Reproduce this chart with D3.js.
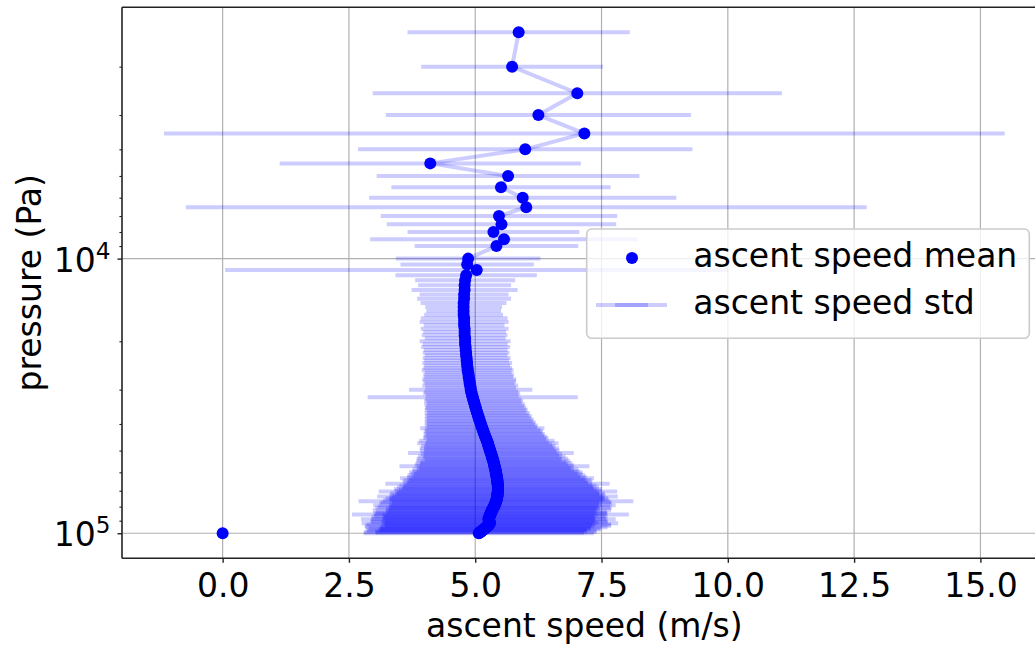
<!DOCTYPE html>
<html><head><meta charset="utf-8">
<script src="https://cdn.jsdelivr.net/npm/d3@7"></script>
<style>
body{margin:0;background:#fff;}
svg{display:block;font-family:"DejaVu Sans",sans-serif;}
</style>
</head><body>
<svg id="c" width="1035" height="646"></svg>
<script>
// ---------- data ----------
const sparsePressure = [1500,2000,2500,3000,3500,4000,4500,5000,5500,6000,6500,7000,7500,8000,8500,9000];
const sparseMean = [5.86,5.73,7.02,6.25,7.16,5.99,4.11,5.65,5.51,5.94,6.01,5.47,5.52,5.36,5.57,5.42];
const sparseStd  = [2.20,1.80,4.05,3.02,8.32,3.31,2.98,2.60,2.17,3.04,6.74,2.34,2.27,1.70,2.65,1.62];

const densePressure = [
10000,10500,11000,11500,12000,12500,13000,13500,14000,14500,
15000,15500,16000,16500,17000,17500,18000,18500,19000,19500,
20000,20500,21000,21500,22000,22500,23000,23500,24000,24500,
25000,25500,26000,26500,27000,27500,28000,28500,29000,29500,
30000,30500,31000,31500,32000,32500,33000,33500,34000,34500,
35000,35500,36000,36500,37000,37500,38000,38500,39000,39500,
40000,40500,41000,41500,42000,42500,43000,43500,44000,44500,
45000,45500,46000,46500,47000,47500,48000,48500,49000,49500,
50000,50500,51000,51500,52000,52500,53000,53500,54000,54500,
55000,55500,56000,56500,57000,57500,58000,58500,59000,59500,
60000,60500,61000,61500,62000,62500,63000,63500,64000,64500,
65000,65500,66000,66500,67000,67500,68000,68500,69000,69500,
70000,70500,71000,71500,72000,72500,73000,73500,74000,74500,
75000,75500,76000,76500,77000,77500,78000,78500,79000,79500,
80000,80500,81000,81500,82000,82500,83000,83500,84000,84500,
85000,85500,86000,86500,87000,87500,88000,88500,89000,89500,
90000,90500,91000,91500,92000,92500,93000,93500,94000,94500,
95000,95500,96000,96500,97000,97500,98000,98500,99000,99500,
100000];
const denseMean = [
4.86,4.84,5.03,4.82,4.80,4.79,4.79,4.78,4.78,4.77,
4.77,4.77,4.77,4.78,4.78,4.78,4.79,4.79,4.79,4.80,
4.80,4.80,4.81,4.81,4.82,4.82,4.83,4.83,4.84,4.84,
4.85,4.85,4.86,4.87,4.87,4.88,4.89,4.89,4.90,4.91,
4.91,4.92,4.93,4.94,4.95,4.96,4.97,4.98,4.99,5.00,
5.01,5.02,5.03,5.04,5.05,5.06,5.07,5.08,5.09,5.10,
5.11,5.12,5.13,5.14,5.15,5.16,5.17,5.18,5.19,5.20,
5.21,5.22,5.23,5.24,5.25,5.26,5.26,5.27,5.28,5.29,
5.29,5.30,5.31,5.32,5.32,5.33,5.34,5.34,5.35,5.36,
5.36,5.37,5.37,5.38,5.38,5.39,5.39,5.40,5.40,5.41,
5.41,5.41,5.42,5.42,5.42,5.43,5.43,5.43,5.44,5.44,
5.44,5.44,5.44,5.45,5.45,5.45,5.45,5.45,5.45,5.45,
5.45,5.45,5.45,5.44,5.44,5.44,5.44,5.44,5.43,5.43,
5.43,5.42,5.42,5.41,5.41,5.40,5.40,5.39,5.38,5.38,
5.37,5.36,5.36,5.35,5.34,5.33,5.33,5.32,5.31,5.31,
5.30,5.30,5.29,5.29,5.28,5.28,5.27,5.27,5.26,5.27,
5.27,5.28,5.28,5.29,5.29,5.28,5.27,5.26,5.25,5.24,
5.22,5.21,5.19,5.18,5.16,5.15,5.13,5.12,5.10,5.09,
5.07];
const denseStd = [
1.43,1.32,4.98,1.40,0.99,0.92,1.05,0.88,0.93,0.85,
0.76,0.74,0.78,0.86,0.88,0.80,0.87,0.82,0.85,0.80,
0.90,0.84,0.88,0.83,0.86,0.82,0.87,0.84,0.89,0.85,
0.88,0.91,0.86,0.90,0.88,0.93,0.92,0.89,0.95,0.90,
1.22,0.93,0.96,0.92,2.08,0.95,0.98,0.94,1.00,0.97,
1.00,1.02,0.98,1.04,1.01,1.06,1.03,1.08,1.05,1.10,
1.07,1.12,1.09,1.23,1.14,1.18,1.15,1.20,1.17,1.22,
1.24,1.18,1.34,1.22,1.40,1.26,1.33,1.28,1.38,1.30,
1.38,1.32,1.64,1.40,1.34,1.46,1.38,1.50,1.35,1.52,
1.44,1.55,1.47,1.58,1.88,1.55,1.50,1.64,1.56,1.66,
1.72,1.62,1.70,1.76,1.66,1.78,1.92,1.74,1.86,1.78,
1.88,1.80,2.22,1.86,1.95,1.88,2.00,1.90,2.06,1.96,
2.04,2.36,2.00,2.12,2.02,2.14,2.08,2.38,2.12,2.20,
2.14,2.24,2.10,2.72,2.28,2.05,2.30,2.10,2.40,2.06,
2.30,2.08,2.34,2.12,2.05,2.36,2.10,2.28,2.07,2.30,
2.32,2.74,2.13,2.29,2.08,2.34,2.10,2.32,2.52,2.12,
2.35,2.07,2.34,2.15,2.54,2.10,2.42,2.05,2.44,2.12,
2.40,2.08,2.30,2.10,2.32,2.05,2.27,2.10,2.30,2.06,
2.28];

// surface point (no spread)
const surfacePressure = [100000];
const surfaceMean = [0.0];

const xTickValues = [0,2.5,5,7.5,10,12.5,15];
const yMajorTicks = [1e4,1e5];
const yMinorTicks = [2000,3000,4000,5000,6000,7000,8000,9000,20000,30000,40000,50000,60000,70000,80000,90000];
const yTickExponents = [4,5];

// ---------- layout ----------
const FS = 33;
const P = {l:122, t:7.3, r:1046.7, b:558.3};
const svg = d3.select('#c');

const levels = sparsePressure.concat(densePressure);
const means = sparseMean.concat(denseMean);
const stds = sparseStd.concat(denseStd);
const rows = levels.map((p,i)=>({p:p, m:means[i], s:stds[i]}));

const lo = Math.min(d3.min(rows,d=>d.m-d.s), d3.min(surfaceMean));
const hi = Math.max(d3.max(rows,d=>d.m+d.s), d3.max(surfaceMean));
const xpad = (hi-lo)*0.05;
const x = d3.scaleLinear().domain([lo-xpad, hi+xpad]).range([P.l,P.r]);

const lp0 = Math.log10(d3.min(levels.concat(surfacePressure)));
const lp1 = Math.log10(d3.max(levels.concat(surfacePressure)));
const ypad = (lp1-lp0)*0.05;
const y = d3.scaleLog().domain([Math.pow(10,lp0-ypad), Math.pow(10,lp1+ypad)]).range([P.t,P.b]);

svg.append('defs').append('clipPath').attr('id','clip')
  .append('rect').attr('x',P.l).attr('y',P.t).attr('width',P.r-P.l).attr('height',P.b-P.t);

// grid
const grid = svg.append('g').attr('stroke','#b0b0b0').attr('stroke-width',1.2);
grid.selectAll('line.gx').data(xTickValues).join('line')
  .attr('x1',d=>x(d)).attr('x2',d=>x(d)).attr('y1',P.t).attr('y2',P.b);
grid.selectAll('line.gy').data(yMajorTicks).join('line')
  .attr('x1',P.l).attr('x2',P.r).attr('y1',d=>y(d)).attr('y2',d=>y(d));

// data
const BW = 4.0;
const g = svg.append('g').attr('clip-path','url(#clip)');
g.selectAll('line.bar').data(rows).join('line')
  .attr('x1',d=>x(d.m-d.s)).attr('x2',d=>x(d.m+d.s))
  .attr('y1',d=>y(d.p)).attr('y2',d=>y(d.p))
  .attr('stroke','#0000ff').attr('stroke-opacity',0.2).attr('stroke-width',BW);

g.append('path').datum(rows)
  .attr('d', d3.line().x(d=>x(d.m)).y(d=>y(d.p)))
  .attr('fill','none').attr('stroke','#0000ff').attr('stroke-opacity',0.2)
  .attr('stroke-width',BW).attr('stroke-linejoin','round');

g.selectAll('circle.m').data(rows).join('circle')
  .attr('cx',d=>x(d.m)).attr('cy',d=>y(d.p)).attr('r',6).attr('fill','#0000ff');
g.selectAll('circle.s').data(surfacePressure).join('circle')
  .attr('cx',(d,i)=>x(surfaceMean[i])).attr('cy',d=>y(d)).attr('r',6).attr('fill','#0000ff');

// axes
const xa = svg.append('g').attr('transform',`translate(0,${P.b})`)
  .call(d3.axisBottom(x).tickValues(xTickValues).tickFormat(d3.format('.1f')).tickSize(4.5).tickPadding(10.8));
xa.select('.domain').remove();
xa.selectAll('text').attr('font-size',FS).attr('font-family','"DejaVu Sans",sans-serif').attr('fill','#000');
xa.selectAll('line').attr('stroke','#222').attr('stroke-width',1.4);

const ya = svg.append('g').attr('transform',`translate(${P.l},0)`)
  .call(d3.axisLeft(y).tickValues(yMajorTicks).tickFormat('').tickSize(4.5));
ya.select('.domain').remove();
ya.selectAll('line').attr('stroke','#222').attr('stroke-width',1.4);
const yam = svg.append('g').attr('transform',`translate(${P.l},0)`)
  .call(d3.axisLeft(y).tickValues(yMinorTicks).tickFormat('').tickSize(2.6));
yam.select('.domain').remove();
yam.selectAll('line').attr('stroke','#222').attr('stroke-width',1.1);

const yl = svg.append('g');
yMajorTicks.forEach((t,i)=>{
  const tx = yl.append('text').attr('x',P.l-4.5-7).attr('y',y(t)+13)
    .attr('text-anchor','end').attr('font-size',FS).attr('fill','#000');
  tx.append('tspan').text('10');
  tx.append('tspan').attr('font-size',FS*0.7).attr('dy',-13).text(yTickExponents[i]);
});

// spines
const sp = svg.append('g').attr('stroke','#222').attr('stroke-width',1.6).attr('fill','none');
sp.append('line').attr('x1',P.l).attr('x2',P.l).attr('y1',P.t).attr('y2',P.b);
sp.append('line').attr('x1',P.l).attr('x2',P.r).attr('y1',P.t).attr('y2',P.t);
sp.append('line').attr('x1',P.l).attr('x2',P.r).attr('y1',P.b).attr('y2',P.b);
sp.append('line').attr('x1',P.r).attr('x2',P.r).attr('y1',P.t).attr('y2',P.b);

// axis labels
svg.append('text').attr('x',(P.l+P.r)/2).attr('y',637).attr('text-anchor','middle')
  .attr('font-size',FS).attr('fill','#000').text('ascent speed (m/s)');
svg.append('text').attr('transform',`translate(41,${(P.t+P.b)/2}) rotate(-90)`)
  .attr('text-anchor','middle').attr('font-size',FS).attr('fill','#000').text('pressure (Pa)');

// legend
const lg = svg.append('g');
lg.append('rect').attr('x',586.7).attr('y',229).attr('width',442.6).attr('height',109.3)
  .attr('rx',5).attr('fill','#fff').attr('fill-opacity',0.8).attr('stroke','#cccccc').attr('stroke-width',1.6);
lg.append('circle').attr('cx',632).attr('cy',258).attr('r',6).attr('fill','#0000ff');
lg.append('line').attr('x1',596).attr('x2',667).attr('y1',305).attr('y2',305)
  .attr('stroke','#0000ff').attr('stroke-opacity',0.2).attr('stroke-width',BW);
lg.append('line').attr('x1',615).attr('x2',648).attr('y1',305).attr('y2',305)
  .attr('stroke','#0000ff').attr('stroke-opacity',0.2).attr('stroke-width',BW);
lg.append('text').attr('x',693.3).attr('y',266.5).attr('font-size',FS).attr('fill','#000').text('ascent speed mean');
lg.append('text').attr('x',693.3).attr('y',313.7).attr('font-size',FS).attr('fill','#000').text('ascent speed std');
</script>
</body></html>
